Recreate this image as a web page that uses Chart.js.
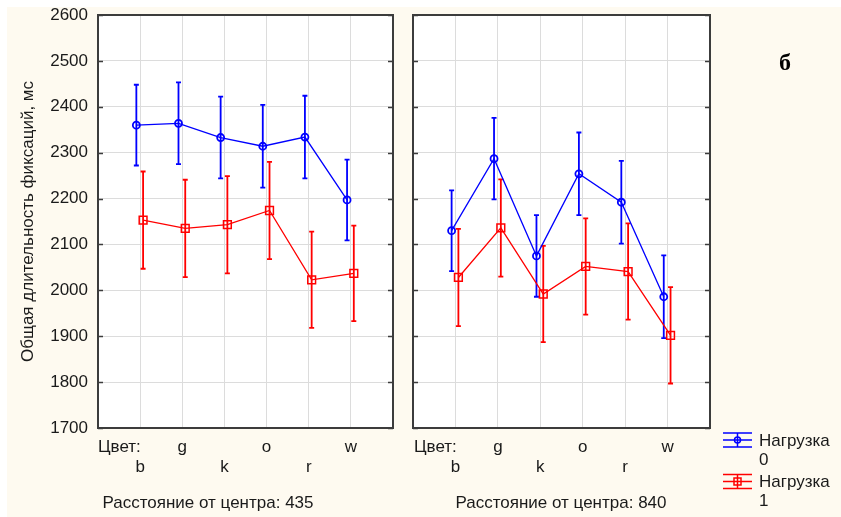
<!DOCTYPE html>
<html>
<head>
<meta charset="utf-8">
<script src="https://cdn.jsdelivr.net/npm/chart.js@4.4.0/dist/chart.umd.min.js"></script>
<style>
  body { margin: 0; background: #fff; width: 841px; height: 517px; overflow: hidden; position: relative;
         font-family: "Liberation Sans", Arial, sans-serif; }
  #bg { position: absolute; left: 7px; top: 7px; right: 0; bottom: 0; background: #fefaf0; }
  canvas { position: absolute; top: 0; }
  #left { left: 0; }
  #right { left: 400px; }
  .lbl { position: absolute; font-size: 17px; line-height: 20px; color: #1a1a1a; white-space: nowrap; }
  .mid { transform: translateX(-50%); }
  #letter { position: absolute; left: 779px; top: 50px; font: bold 24px "Liberation Serif", serif; line-height: 24px; color: #000; }
</style>
</head>
<body>
<div id="bg"></div>
<canvas id="left" width="400" height="517"></canvas>
<canvas id="right" width="441" height="517"></canvas>
<div class="lbl" style="left:98px;top:437px">Цвет:</div>
<div class="lbl" style="left:414px;top:437px">Цвет:</div>
<div class="lbl mid" style="left:208px;top:493px">Расстояние от центра: 435</div>
<div class="lbl mid" style="left:561px;top:493px">Расстояние от центра: 840</div>
<div id="letter">б</div>
<script>
"use strict";

// categories (colour of stimulus)
const colours = ["b", "g", "k", "o", "r", "w"];

// y axis
const yMin = 1700;
const yMax = 2600;
const yStep = 100;

// distance 435
const load0At435 = [2360, 2364, 2333, 2314, 2334, 2197];
const load0Err435 = [88, 89, 89, 90, 90, 88];
const load1At435 = [2153, 2135, 2143, 2174, 2023, 2037];
const load1Err435 = [106, 106, 106, 106, 105, 104];

// distance 840
const load0At840 = [2130, 2287, 2075, 2254, 2192, 1986];
const load0Err840 = [88, 89, 89, 90, 90, 90];
const load1At840 = [2028, 2136, 1992, 2052, 2041, 1902];
const load1Err840 = [106, 106, 105, 105, 105, 105];

const blue = "#0000ff";
const red = "#ff0000";
const fontFamily = '"Liberation Sans", Arial, sans-serif';


// points are shifted a little sideways, like in the original
const toPoints = (values, shift) => values.map((v, i) => ({ x: i + 1 + shift, y: v }));

// fixed size for an axis, no extra padding
const fixSize = (s, prop, size) => {
  s[prop] = size;
  s.paddingTop = 0;
  s.paddingBottom = 0;
  s.paddingLeft = 0;
  s.paddingRight = 0;
};


// plugin: white plot area, error bars, frame, inner ticks, legend
const panelPlugin = {
  id: "panel",
  beforeDraw(chart) {
    const { ctx, chartArea: a } = chart;
    ctx.save();
    ctx.fillStyle = "#ffffff";
    ctx.fillRect(a.left, a.top, a.right - a.left, a.bottom - a.top);
    ctx.restore();
  },
  beforeDatasetsDraw(chart) {
    const { ctx } = chart;
    const xs = chart.scales.x;
    const ys = chart.scales.y;
    ctx.save();
    chart.data.datasets.forEach((ds) => {
      ctx.strokeStyle = ds.borderColor;
      ctx.lineWidth = 1.8;
      ds.data.forEach((p, i) => {
        const px = xs.getPixelForValue(p.x);
        const top = ys.getPixelForValue(p.y + ds.errors[i]);
        const bot = ys.getPixelForValue(p.y - ds.errors[i]);
        ctx.beginPath();
        ctx.moveTo(px, top);
        ctx.lineTo(px, bot);
        ctx.moveTo(px - 2.5, top);
        ctx.lineTo(px + 2.5, top);
        ctx.moveTo(px - 2.5, bot);
        ctx.lineTo(px + 2.5, bot);
        ctx.stroke();
      });
    });
    ctx.restore();
  },
  afterDraw(chart, args, opts) {
    const { ctx, chartArea: a } = chart;
    const ys = chart.scales.y;
    ctx.save();
    ctx.strokeStyle = "#3c3c3c";
    ctx.lineWidth = 2;
    ctx.strokeRect(a.left, a.top, a.right - a.left, a.bottom - a.top);
    ctx.lineWidth = 1.5;
    ys.ticks.forEach((t) => {
      const py = Math.round(ys.getPixelForValue(t.value)) + 0.5;
      ctx.beginPath();
      ctx.moveTo(a.left, py);
      ctx.lineTo(a.left + 5, py);
      ctx.moveTo(a.right - 5, py);
      ctx.lineTo(a.right, py);
      ctx.stroke();
    });

    if (opts.legend) {
      const x0 = a.right + 13;
      const x1 = a.right + 42;
      const xm = (x0 + x1) / 2;
      chart.data.datasets.forEach((ds, i) => {
        const cy = 440 + i * 41.5;
        ctx.strokeStyle = ds.borderColor;
        ctx.lineWidth = 1.5;
        ctx.beginPath();
        ctx.moveTo(x0, cy - 7); ctx.lineTo(x1, cy - 7);
        ctx.moveTo(x0, cy); ctx.lineTo(x1, cy);
        ctx.moveTo(x0, cy + 7); ctx.lineTo(x1, cy + 7);
        ctx.moveTo(xm, cy - 7); ctx.lineTo(xm, cy + 7);
        ctx.stroke();
        ctx.beginPath();
        if (ds.pointStyle === "rect") ctx.rect(xm - 3.5, cy - 3.5, 7, 7);
        else ctx.arc(xm, cy, 3, 0, Math.PI * 2);
        ctx.stroke();

        const [word, num] = ds.label.split(" ");
        ctx.fillStyle = "#1a1a1a";
        ctx.font = "17px " + fontFamily;
        ctx.textBaseline = "middle";
        ctx.textAlign = "left";
        ctx.fillText(word, a.right + 49, cy + 1);
        ctx.fillText(num, a.right + 49, cy + 20);
      });
    }
    ctx.restore();
  },
};


function makePanel(canvasId, load0, err0, load1, err1, isLeft) {
  const canvas = document.getElementById(canvasId);

  return new Chart(canvas, {
    type: "scatter",
    data: {
      datasets: [
        {
          label: "Нагрузка 0",
          data: toPoints(load0, -0.09),
          errors: err0,
          showLine: true,
          borderColor: blue,
          backgroundColor: "rgba(0,0,0,0)",
          borderWidth: 1.3,
          pointStyle: "circle",
          pointRadius: 3.5,
          pointBorderWidth: 1.8,
        },
        {
          label: "Нагрузка 1",
          data: toPoints(load1, 0.07),
          errors: err1,
          showLine: true,
          borderColor: red,
          backgroundColor: "rgba(0,0,0,0)",
          borderWidth: 1.3,
          pointStyle: "rect",
          pointRadius: 5.5,
          pointBorderWidth: 1.5,
        },
      ],
    },
    options: {
      responsive: false,
      animation: false,
      events: [],
      layout: { padding: { top: 15, right: isLeft ? 6 : 131, left: 0, bottom: 0 } },
      plugins: {
        legend: { display: false },
        tooltip: { enabled: false },
        panel: { legend: !isLeft },
      },
      scales: {
        x: {
          type: "linear",
          min: 0,
          max: 7,
          afterFit: (s) => fixSize(s, "height", 89),
          afterBuildTicks: (s) => { s.ticks = [0, 1, 2, 3, 4, 5, 6, 7].map((v) => ({ value: v })); },
          grid: { color: "#dcdcdc", lineWidth: 1, drawTicks: false },
          border: { display: false },
          ticks: {
            padding: 9,
            autoSkip: false,
            maxRotation: 0,
            color: "#1a1a1a",
            font: { family: fontFamily, size: 17, lineHeight: 1.18 },
            callback: (v) => {
              const c = colours[v - 1];
              if (!c) return "";
              return (v - 1) % 2 === 0 ? ["", c] : c;
            },
          },
        },
        y: {
          min: yMin,
          max: yMax,
          afterFit: (s) => fixSize(s, "width", isLeft ? 98 : 13),
          grid: { color: "#dcdcdc", lineWidth: 1, drawTicks: false },
          border: { display: false },
          ticks: {
            display: isLeft,
            stepSize: yStep,
            padding: 10,
            color: "#1a1a1a",
            font: { family: fontFamily, size: 17 },
            callback: (v) => String(v),
          },
          title: {
            display: isLeft,
            text: "Общая длительность фиксаций, мс",
            color: "#1a1a1a",
            font: { family: fontFamily, size: 17 },
            padding: { top: 18, bottom: 0 },
          },
        },
      },
    },
    plugins: [panelPlugin],
  });
}

makePanel("left", load0At435, load0Err435, load1At435, load1Err435, true);
makePanel("right", load0At840, load0Err840, load1At840, load1Err840, false);
</script>
</body>
</html>
